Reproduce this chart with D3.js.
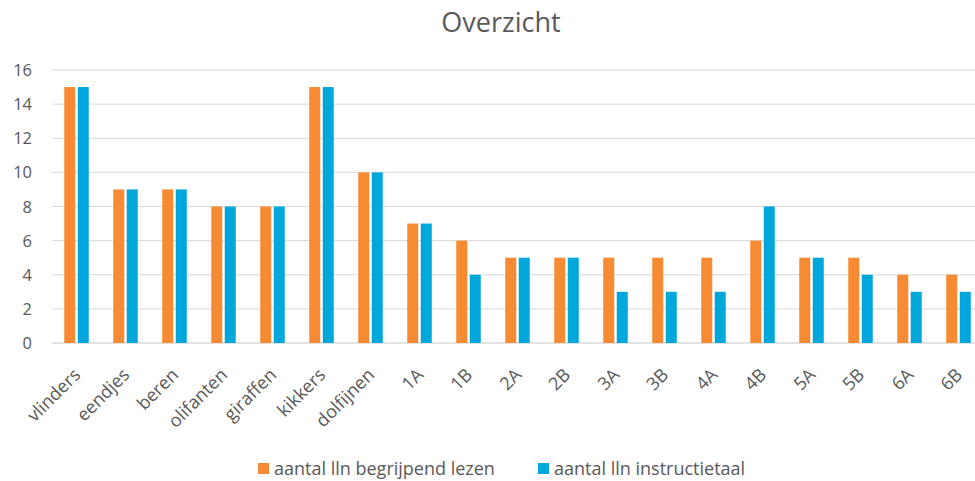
<!DOCTYPE html>
<html>
<head>
<meta charset="utf-8">
<script src="https://cdn.jsdelivr.net/npm/d3@7"></script>
<style>
  body { margin: 0; background: #fff; overflow: hidden; }
  svg text { font-family: "Open Sans", "Liberation Sans", sans-serif; fill: #595959; }
</style>
</head>
<body>
<svg></svg>
<script>
// data
const categories = ["vlinders", "eendjes", "beren", "olifanten", "giraffen", "kikkers", "dolfijnen",
  "1A", "1B", "2A", "2B", "3A", "3B", "4A", "4B", "5A", "5B", "6A", "6B"];
const lezen = [15, 9, 9, 8, 8, 15, 10, 7, 6, 5, 5, 5, 5, 5, 6, 5, 5, 4, 4];
const instructie = [15, 9, 9, 8, 8, 15, 10, 7, 4, 5, 5, 3, 3, 3, 8, 5, 4, 3, 3];
const seriesNames = ["aantal lln begrijpend lezen", "aantal lln instructietaal"];
const colors = ["#F68B33", "#00A7DB"];
const yTicks = [0, 2, 4, 6, 8, 10, 12, 14, 16];

const width = 975;
const height = 481;
let svg = d3.select("svg")
  .attr("width", width)
  .attr("height", height);

// plotgebied loopt rechts iets buiten beeld
const plotLeft = 52, plotRight = 983, plotTop = 70, plotBottom = 343;

let x = d3.scaleBand()
  .domain(categories)
  .range([plotLeft, plotRight])
  .padding(0);

let y = d3.scaleLinear()
  .domain([0, 16])
  .range([plotBottom, plotTop]);

// titel
svg.append("text")
  .attr("x", 501)
  .attr("y", 32)
  .attr("text-anchor", "middle")
  .style("font-size", "27px")
  .text("Overzicht");

// rasterlijnen
svg.append("g")
  .selectAll("line")
  .data(yTicks)
  .join("line")
  .attr("x1", plotLeft)
  .attr("x2", plotRight)
  .attr("y1", d => y(d))
  .attr("y2", d => y(d))
  .style("stroke", "#d9d9d9")
  .style("stroke-width", d => d === 0 ? 1.5 : 1);

// y-as labels
svg.append("g")
  .selectAll("text")
  .data(yTicks)
  .join("text")
  .attr("x", 32)
  .attr("y", d => y(d) + 6)
  .attr("text-anchor", "end")
  .style("font-size", "16.5px")
  .text(d => d);

// staven
const barW = 11;
const gap = 2.5;
const series = [lezen, instructie];
series.forEach((vals, s) => {
  svg.append("g")
    .selectAll("rect")
    .data(categories)
    .join("rect")
    .attr("x", (d, i) => x(d) + x.bandwidth() / 2 - barW - gap / 2 + s * (barW + gap))
    .attr("y", (d, i) => y(vals[i]))
    .attr("width", barW)
    .attr("height", (d, i) => y(0) - y(vals[i]))
    .style("fill", colors[s]);
});

// x-as labels, schuin
svg.append("g")
  .selectAll("text")
  .data(categories)
  .join("text")
  .attr("transform", d => `translate(${x(d) + x.bandwidth() / 2 + 5}, 376) rotate(-45)`)
  .attr("text-anchor", "end")
  .style("font-size", "18px")
  .text(d => d);

// legenda
const legendX = [258, 538];
seriesNames.forEach((name, s) => {
  svg.append("rect")
    .attr("x", legendX[s])
    .attr("y", 463)
    .attr("width", 11)
    .attr("height", 11)
    .style("fill", colors[s]);
  svg.append("text")
    .attr("x", legendX[s] + 16)
    .attr("y", 475)
    .style("font-size", "18px")
    .text(name);
});
</script>
</body>
</html>
